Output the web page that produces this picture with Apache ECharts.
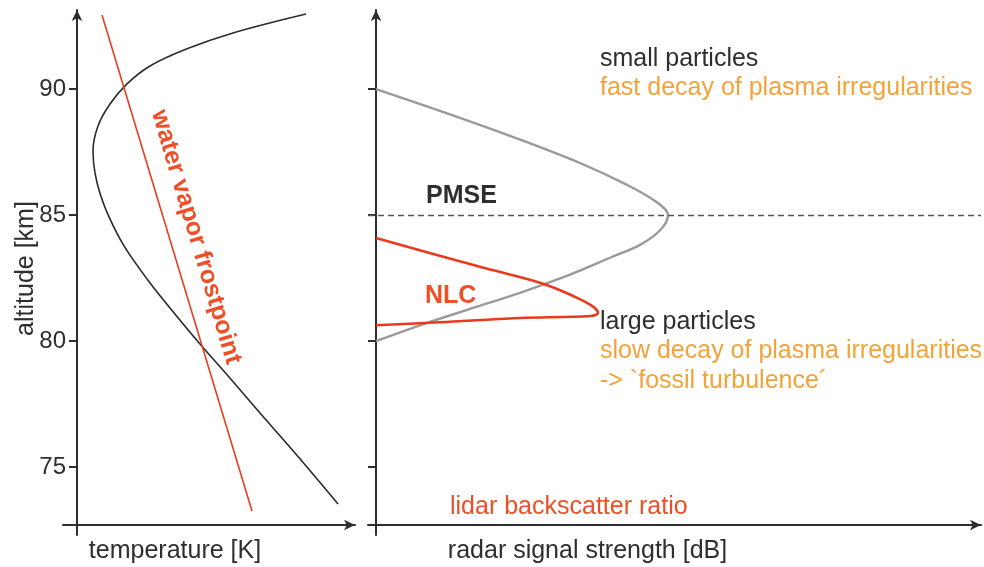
<!DOCTYPE html>
<html>
<head>
<meta charset="utf-8">
<script src="https://cdn.jsdelivr.net/npm/echarts@6/dist/echarts.min.js"></script>
<style>
  html, body { margin: 0; padding: 0; background: #ffffff; }
  #chart { width: 984px; height: 567px; }
</style>
</head>
<body>
<div id="chart"></div>
<script>
// Altitude ticks shared by both panels (km)
const altTicks = [75, 80, 85, 90];

// Mesopause temperature profile: [relative temperature, altitude km]
const temperatureProfile = [
  [114.5, 92.98], [78, 92.23], [55, 91.60], [36.5, 90.92], [25, 90.21],
  [16.5, 89.41], [10.5, 88.54], [8, 87.55], [9, 86.67], [11.75, 85.80],
  [16, 84.93], [23.5, 83.78], [35, 82.47], [46.5, 81.32], [61.5, 79.89],
  [76, 78.58], [91.5, 77.15], [109, 75.56], [130.5, 73.54]
];

// Water vapour frost point: [relative temperature, altitude km]
const frostpoint = [[12.5, 92.94], [87.5, 73.26]];

// PMSE radar echo strength: [relative dB, altitude km]
const pmseProfile = [
  [0, 90.0], [7.4, 89.0], [14.4, 88.0], [20.4, 87.07], [24.9, 86.24],
  [27.9, 85.56], [29.2, 85.0], [28.4, 84.40], [26.4, 83.82], [23.4, 83.31],
  [19.4, 82.64], [14.4, 81.92], [9.4, 81.28], [4.4, 80.63], [0, 80.0]
];

// NLC lidar backscatter ratio: [relative units, altitude km]
const nlcProfile = [
  [0, 84.09], [10.3, 82.96], [16.7, 82.28], [19.9, 81.76], [21.6, 81.40],
  [22.2, 81.12], [21.5, 81.0], [14.3, 80.92], [6.4, 80.75], [0, 80.63]
];

// Altitude of the PMSE layer peak (km)
const pmsePeak = 85;

const FONT = '"Liberation Sans", Arial, Helvetica, sans-serif';
const AXIS_COLOR = '#2e2e2e';
const TEXT_DARK = '#2e2e2e';
const ORANGE = '#f4a23a';
const RED_TEXT = '#ee4f27';

const altMin = 72.31, altMax = 93.14;

function altitudeAxis(gridIndex, withLabels) {
  return {
    type: 'value', gridIndex: gridIndex, min: altMin, max: altMax,
    splitLine: { show: false },
    axisLine: {
      show: true, onZero: true,
      symbol: ['none', 'arrow'], symbolSize: [8, 11],
      lineStyle: { color: AXIS_COLOR, width: 2 }
    },
    axisTick: {
      show: true, customValues: altTicks, length: 8, inside: false,
      lineStyle: { color: AXIS_COLOR, width: 2 }
    },
    axisLabel: {
      show: withLabels, customValues: altTicks, margin: -3,
      fontSize: 24, color: TEXT_DARK, fontFamily: FONT
    },
    name: withLabels ? 'altitude [km]' : '',
    nameLocation: 'middle', nameGap: 24, nameRotate: 90, nameMoveOverlap: false,
    nameTextStyle: { fontSize: 25, color: TEXT_DARK, fontFamily: FONT, padding: [0, 0, 0, 8] }
  };
}

// Helper y axis used only to place each horizontal axis a little above the grid bottom
function baselineAxis(gridIndex) {
  return { type: 'value', gridIndex: gridIndex, min: -10, max: 515, show: false };
}

function horizontalAxis(gridIndex, min, max, name, shift, zeroAxis) {
  return {
    type: 'value', gridIndex: gridIndex, min: min, max: max,
    splitLine: { show: false },
    axisTick: { show: false },
    axisLabel: { show: false },
    axisLine: {
      show: true, onZero: true, onZeroAxisIndex: zeroAxis,
      symbol: ['none', 'arrow'], symbolSize: [8, 11],
      lineStyle: { color: AXIS_COLOR, width: 2 }
    },
    name: name, nameLocation: 'middle', nameGap: 4, nameMoveOverlap: false,
    nameTextStyle: {
      fontSize: 25, color: TEXT_DARK, fontFamily: FONT,
      verticalAlign: 'top', padding: [0, shift, 0, 0]
    }
  };
}

const chart = echarts.init(document.getElementById('chart'), null, { renderer: 'canvas' });

chart.setOption({
  backgroundColor: '#ffffff',
  animation: false,
  grid: [
    { left: 63, right: 629, top: 10, bottom: 32, outerBoundsMode: 'none', containLabel: false },
    { left: 368, right: 3, top: 10, bottom: 32, outerBoundsMode: 'none', containLabel: false }
  ],
  xAxis: [
    horizontalAxis(0, -7, 139, 'temperature [K]', 68, 1),
    horizontalAxis(1, -0.8, 60.5, 'radar signal strength [dB]', 174, 3)
  ],
  yAxis: [
    altitudeAxis(0, true),
    baselineAxis(0),
    altitudeAxis(1, false),
    baselineAxis(1)
  ],
  series: [
    {
      name: 'temperature', type: 'line', xAxisIndex: 0, yAxisIndex: 0,
      data: temperatureProfile, smooth: 0.35, showSymbol: false,
      lineStyle: { color: '#2b2b2b', width: 1.6 }
    },
    {
      name: 'water vapor frostpoint', type: 'line', xAxisIndex: 0, yAxisIndex: 0,
      data: frostpoint, showSymbol: false,
      lineStyle: { color: '#e63e22', width: 1.6 }
    },
    {
      name: 'PMSE', type: 'line', xAxisIndex: 1, yAxisIndex: 2,
      data: pmseProfile, smooth: 0.35, showSymbol: false,
      lineStyle: { color: '#9a9a9a', width: 2.4 },
      markLine: {
        silent: true, symbol: ['none', 'none'],
        label: { show: false },
        lineStyle: { type: [6, 4], color: '#555555', width: 1.3 },
        data: [{ yAxis: pmsePeak }]
      }
    },
    {
      name: 'NLC', type: 'line', xAxisIndex: 1, yAxisIndex: 2,
      data: nlcProfile, smooth: 0.35, showSymbol: false,
      lineStyle: { color: '#ea3a1d', width: 2.6 }
    }
  ],
  graphic: [
    {
      type: 'text', x: 196, y: 237, rotation: -73.4 * Math.PI / 180,
      style: {
        text: 'water vapor frostpoint', fill: RED_TEXT, font: 'bold 25px ' + FONT,
        align: 'center', verticalAlign: 'middle'
      }
    },
    { type: 'text', left: 600, top: 47, style: { text: 'small particles', fill: TEXT_DARK, font: '25px ' + FONT } },
    { type: 'text', left: 600, top: 76, style: { text: 'fast decay of plasma irregularities', fill: ORANGE, font: '25px ' + FONT } },
    { type: 'text', left: 426, top: 184, style: { text: 'PMSE', fill: TEXT_DARK, font: 'bold 25px ' + FONT } },
    { type: 'text', left: 425, top: 284, style: { text: 'NLC', fill: RED_TEXT, font: 'bold 25px ' + FONT } },
    { type: 'text', left: 600, top: 310, style: { text: 'large particles', fill: TEXT_DARK, font: '25px ' + FONT } },
    { type: 'text', left: 600, top: 339, style: { text: 'slow decay of plasma irregularities', fill: ORANGE, font: '25px ' + FONT } },
    { type: 'text', left: 600, top: 369, style: { text: '-> `fossil turbulence\u00b4', fill: ORANGE, font: '25px ' + FONT } },
    { type: 'text', left: 450, top: 495, style: { text: 'lidar backscatter ratio', fill: RED_TEXT, font: '25px ' + FONT } }
  ]
});
</script>
</body>
</html>
